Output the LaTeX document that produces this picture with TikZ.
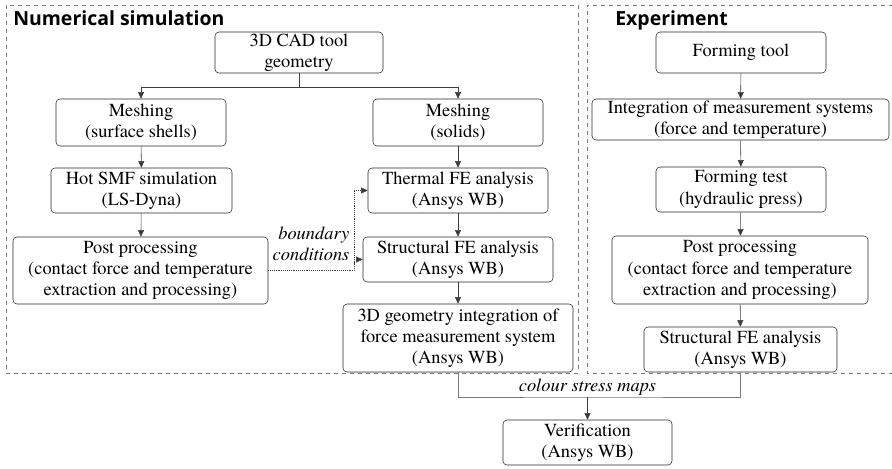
\documentclass[tikz,border=0pt]{standalone}
\usepackage{fontspec}
\setmainfont{texgyretermes}[Extension=.otf, UprightFont=*-regular,
  ItalicFont=*-italic, BoldFont=*-bold, BoldItalicFont=*-bolditalic]
\newfontfamily\headfont{Open Sans}
\usepackage{tikz}
\usetikzlibrary{positioning,calc,arrows.meta}
\definecolor{framegray}{RGB}{120,120,120}
\definecolor{linegray}{RGB}{60,60,60}
\tikzset{
  stepnode/.style = {draw=black!85, rounded corners=3pt, align=center,
    inner sep=0pt, font=\rmfamily\fontsize{13.8pt}{15.9pt}\selectfont, thin},
  box/.style 2 args = {stepnode, minimum width=#1*0.75pt,
    minimum height=#2*0.75pt},% size in px
  arr/.style = {-{Triangle[length=5pt,width=4.5pt]}, linegray, thin},
  bcline/.style = {arr, densely dotted},
  smline/.style = {framegray, thin},
  frame/.style = {framegray, dashed, thin},
  heading/.style = {anchor=base west, inner sep=0pt,
    font=\headfont\bfseries\fontsize{14.6pt}{18pt}\selectfont},
  note/.style = {font=\rmfamily\itshape\fontsize{13.8pt}{15.9pt}\selectfont,
    inner sep=1pt}
}
\begin{document}
\begin{tikzpicture}[x=0.75pt,y=-0.75pt]
\useasboundingbox (0,0) rectangle (892,468);
% frames
\draw[frame] (6,5) rectangle (578,373);
\draw[frame] (893,5) -- (587,5) -- (587,373) -- (893,373);
\node[heading] (numtitle) at (13,25) {Numerical simulation};
\node[heading] (exptitle) at (615,25) {Experiment};
% numerical simulation
\node[box={168}{41}] (cad) at (299,52.5) {3D CAD tool\\geometry};
\node[box={170}{47}] (meshs) at (141,122.5) {Meshing\\(surface shells)};
\node[box={170}{47}] (meshv) at (458,122.5) {Meshing\\(solids)};
\node[box={181}{45}] (hot) at (141.5,190.5) {Hot SMF simulation\\(LS-Dyna)};
\node[box={255}{67}] (postl) at (140.5,270.5)
  {Post processing\\(contact force and temperature\\extraction and processing)};
\node[box={180}{45}] (therm) at (458,190.5) {Thermal FE analysis\\(Ansys WB)};
\node[box={190}{45}] (struc) at (458,259.5) {Structural FE analysis\\(Ansys WB)};
\node[box={230}{68}] (geom) at (458,338)
  {3D geometry integration of\\force measurement system\\(Ansys WB)};
% experiment
\node[box={170}{41}] (ftool) at (741,52.5) {Forming tool};
\node[box={297}{41}] (integ) at (740.5,119.5)
  {Integration of measurement systems\\(force and temperature)};
\node[box={170}{45}] (ftest) at (741,189.5) {Forming test\\(hydraulic press)};
\node[box={256}{68}] (postr) at (740,270)
  {Post processing\\(contact force and temperature\\extraction and processing)};
\node[box={193}{45}] (strucr) at (740.5,349.5) {Structural FE analysis\\(Ansys WB)};
% verification
\node[box={169}{45}] (verif) at (587.5,442.5) {Verification\\(Ansys WB)};

\coordinate (split) at (299,87);
\coordinate (bcx) at (354,270.5);
\coordinate (maps) at (587.5,397);

\draw[linegray, thin] (cad.south) -- (split);
\draw[arr] (split) -| (meshs.north);
\draw[arr] (split) -| (meshv.north);
\draw[arr] (meshs) -- (hot);
\draw[arr] (hot) -- (postl);
\draw[arr] (meshv) -- (therm);
\draw[arr] (therm) -- (struc);
\draw[arr] (struc) -- (geom);
\draw[arr] (ftool) -- (integ);
\draw[arr] (integ) -- (ftest);
\draw[arr] (ftest) -- (postr);
\draw[arr] (postr) -- (strucr);
% boundary conditions
\draw[bcline] (postl.east) -- (bcx) |- (therm.west);
\draw[bcline] (bcx) |- (struc.west);
\node[note, align=right, anchor=east] (bclabel) at (351,244)
  {boundary\\conditions};
% colour stress maps
\draw[smline] (geom.south) |- (maps) -| (strucr.south);
\draw[arr] (maps) -- (verif.north);
\node[note, anchor=south] (smlabel) at (maps) {colour stress maps};
\end{tikzpicture}
\end{document}
